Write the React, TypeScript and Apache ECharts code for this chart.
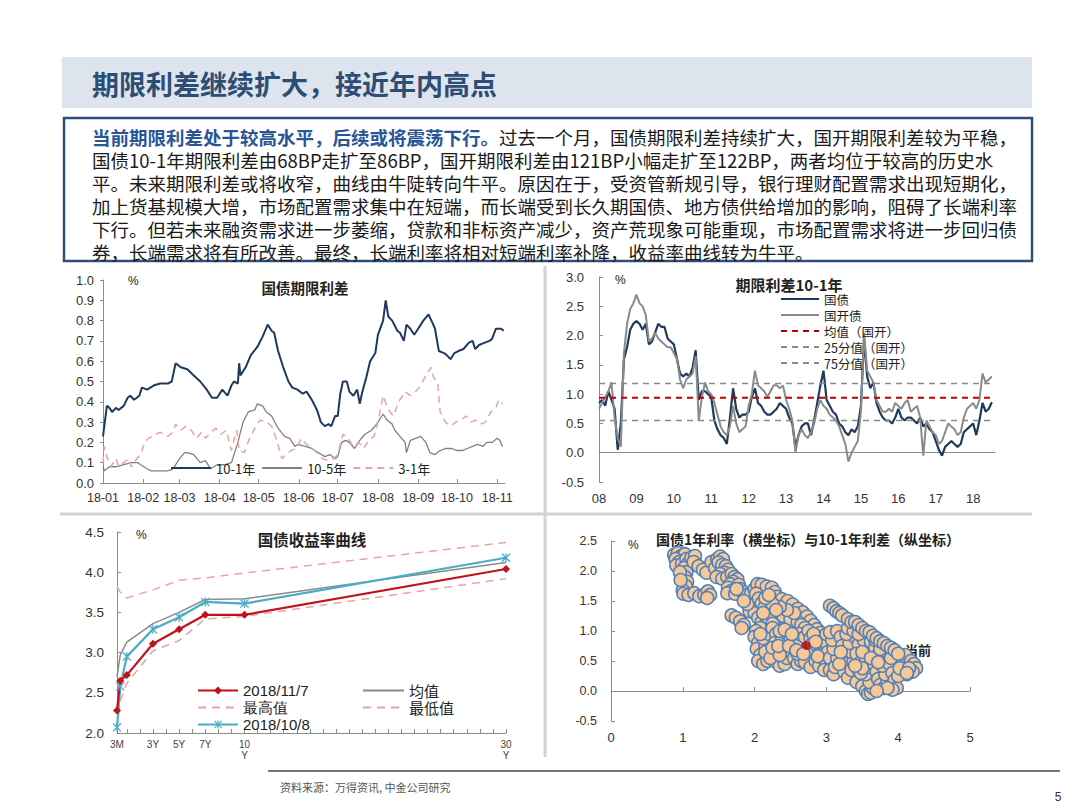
import React, { useEffect, useRef } from 'react';
import * as echarts from 'echarts';

// ---------- Chart 1: 国债期限利差 (x = days since 2018-01-01) ----------
const monthDays = [0, 31, 59, 90, 120, 151, 181, 212, 243, 273, 304];
const monthLabels = ['18-01', '18-02', '18-03', '18-04', '18-05', '18-06', '18-07', '18-08', '18-09', '18-10', '18-11'];

const spread101 = [
  [0, 0.23], [3, 0.38], [5, 0.37], [7, 0.35], [10, 0.37], [12, 0.36], [16, 0.38], [19, 0.42], [21, 0.43], [24, 0.41],
  [28, 0.43], [30, 0.47], [34, 0.46], [39, 0.48], [44, 0.49], [50, 0.49], [53, 0.5], [56, 0.59], [60, 0.57], [65, 0.56],
  [70, 0.53], [75, 0.5], [80, 0.46], [84, 0.42], [88, 0.42], [92, 0.46], [96, 0.43], [99, 0.48], [101, 0.5], [104, 0.49],
  [105, 0.59], [106, 0.53], [110, 0.57], [114, 0.63], [119, 0.67], [123, 0.72], [127, 0.78], [130, 0.75], [132, 0.74], [135, 0.65],
  [139, 0.57], [143, 0.5], [146, 0.47], [150, 0.46], [154, 0.44], [157, 0.45], [161, 0.41], [165, 0.36], [168, 0.3], [171, 0.28],
  [174, 0.29], [176, 0.28], [179, 0.33], [181, 0.33], [183, 0.44], [185, 0.5], [188, 0.5], [190, 0.45], [193, 0.43], [196, 0.46],
  [198, 0.39], [200, 0.45], [203, 0.52], [206, 0.6], [210, 0.64], [212, 0.73], [216, 0.8], [218, 0.9], [220, 0.82], [223, 0.8],
  [227, 0.75], [229, 0.74], [232, 0.7], [234, 0.78], [237, 0.76], [240, 0.73], [243, 0.76], [247, 0.8], [251, 0.83], [254, 0.79],
  [256, 0.76], [259, 0.65], [263, 0.64], [265, 0.63], [268, 0.61], [271, 0.64], [274, 0.65], [278, 0.66], [282, 0.69], [285, 0.7],
  [287, 0.66], [290, 0.68], [294, 0.69], [298, 0.7], [300, 0.71], [303, 0.76], [307, 0.76], [309, 0.75],
];
const spread105 = [
  [0, 0.08], [1, 0.06], [5, 0.08], [10, 0.08], [16, 0.09], [22, 0.1], [27, 0.1], [29, 0.09], [34, 0.07], [37, 0.06],
  [44, 0.06], [50, 0.06], [54, 0.07], [59, 0.12], [63, 0.15], [65, 0.15], [70, 0.14], [75, 0.1], [79, 0.11], [83, 0.07],
  [88, 0.09], [94, 0.09], [99, 0.1], [104, 0.2], [108, 0.3], [112, 0.35], [117, 0.36], [119, 0.39], [123, 0.38], [126, 0.35],
  [130, 0.33], [135, 0.27], [140, 0.23], [144, 0.22], [148, 0.18], [150, 0.19], [156, 0.18], [161, 0.17], [166, 0.15], [171, 0.13],
  [175, 0.14], [179, 0.12], [181, 0.13], [184, 0.2], [187, 0.21], [190, 0.2], [194, 0.17], [198, 0.21], [202, 0.24], [207, 0.26],
  [211, 0.29], [216, 0.34], [219, 0.31], [223, 0.29], [225, 0.26], [229, 0.23], [233, 0.2], [234, 0.15], [237, 0.21], [241, 0.22],
  [245, 0.23], [249, 0.2], [252, 0.15], [256, 0.14], [260, 0.16], [264, 0.17], [269, 0.17], [273, 0.16], [277, 0.16], [281, 0.17],
  [285, 0.18], [289, 0.19], [293, 0.18], [296, 0.2], [300, 0.2], [304, 0.22], [306, 0.21], [308, 0.18],
];
const spread31 = [
  [0, 0.1], [1, 0.18], [3, 0.13], [6, 0.08], [10, 0.12], [12, 0.08], [16, 0.1], [20, 0.12], [22, 0.08], [26, 0.12],
  [29, 0.14], [32, 0.2], [35, 0.22], [41, 0.24], [44, 0.25], [50, 0.23], [54, 0.25], [56, 0.29], [60, 0.26], [64, 0.28],
  [68, 0.26], [72, 0.22], [76, 0.25], [79, 0.22], [83, 0.25], [87, 0.27], [91, 0.24], [95, 0.26], [99, 0.16], [101, 0.21],
  [103, 0.26], [105, 0.16], [109, 0.15], [113, 0.22], [117, 0.27], [121, 0.31], [126, 0.3], [130, 0.28], [134, 0.21], [138, 0.12],
  [141, 0.14], [145, 0.16], [149, 0.17], [153, 0.22], [157, 0.19], [161, 0.17], [165, 0.15], [169, 0.12], [174, 0.11], [178, 0.12],
  [181, 0.14], [185, 0.24], [189, 0.22], [193, 0.18], [197, 0.2], [201, 0.17], [205, 0.21], [209, 0.23], [212, 0.3], [216, 0.43],
  [220, 0.36], [224, 0.33], [228, 0.4], [233, 0.45], [237, 0.43], [241, 0.45], [245, 0.48], [249, 0.53], [253, 0.57], [255, 0.52],
  [258, 0.5], [260, 0.35], [264, 0.3], [268, 0.28], [272, 0.3], [276, 0.31], [280, 0.33], [284, 0.3], [287, 0.31], [291, 0.29],
  [295, 0.3], [299, 0.35], [303, 0.37], [305, 0.41], [308, 0.39],
];

// ---------- Chart 2: 期限利差10-1年 (monthly, from 2008-01) ----------
const yearTickMonths = [0, 12, 24, 36, 48, 60, 72, 84, 96, 108, 120];
const govSpread = [
  0.85, 0.9, 0.8, 1.05, 0.9, 0.75, 0.05, 0.5, 1.6, 1.8,
  2.1, 2.2, 2.25, 2.2, 2.1, 2.2, 1.85, 1.9, 2.05, 2.2,
  2.15, 2.15, 1.95, 1.9, 1.85, 1.6, 1.35, 1.3, 1.35, 1.3,
  1.45, 1.75, 0.9, 1.05, 1.05, 1.0, 0.95, 0.55, 0.4, 0.3,
  0.25, 0.15, 0.6, 1.1, 0.75, 0.6, 0.65, 0.65, 0.7, 0.95,
  1.1, 0.85, 0.8, 0.7, 0.65, 0.65, 0.7, 0.75, 0.85, 0.8,
  0.75, 0.6, 0.5, 0.1, 0.3, 0.45, 0.5, 0.5, 0.3, 0.55,
  0.85, 1.15, 1.4, 0.9, 0.8, 0.7, 0.65, 0.5, 0.45, 0.35,
  0.3, 0.4, 0.35, 0.45, 0.8, 1.95, 1.3, 1.1, 1.2, 0.85,
  0.7, 0.6, 0.55, 0.55, 0.5, 0.6, 0.75, 0.6, 0.55, 0.6,
  0.6, 0.55, 0.5, 0.6, 0.45, 0.5, 0.4, 0.35, 0.2, 0.05,
  -0.05, 0.1, 0.15, 0.2, 0.15, 0.1, 0.15, 0.35, 0.4, 0.45,
  0.5, 0.3, 0.55, 0.85, 0.7, 0.75, 0.86,
];
const cdbSpread = [
  0.75, 0.85, 0.95, 1.05, 1.2, 0.6, 0.25, 0.1, 1.7, 2.2,
  2.45, 2.55, 2.7, 2.55, 2.5, 2.35, 1.9, 1.95, 2.05, 1.95,
  1.9, 1.85, 1.8, 1.8, 1.7, 1.6, 1.25, 1.1, 1.25, 1.3,
  1.35, 1.65, 0.55, 0.95, 1.2, 1.05, 1.0, 0.85, 0.65, 0.45,
  0.35, 0.3, 0.45, 0.8, 0.5, 0.35, 0.4, 0.45, 0.8, 1.0,
  1.4, 1.15, 1.1, 1.05, 0.95, 1.05, 1.15, 1.15, 1.1, 1.15,
  0.9, 0.75, 0.55, 0.0, 0.3, 0.4, 0.3, 0.25, 0.35, 0.5,
  0.75, 0.9, 0.8, 0.75, 0.65, 0.6, 0.55, 0.45, 0.3, 0.15,
  -0.15, 0.0, 0.1, 0.2, 0.7, 2.05, 1.4, 1.3, 1.2, 0.9,
  0.8, 0.7, 0.7, 0.75, 0.7, 0.85, 0.8, 0.75, 0.85, 0.9,
  0.7, 0.75, 0.8, 0.6, -0.05, 0.55, 0.45, 0.35, 0.3, 0.15,
  0.2, 0.35, 0.5, 0.45, 0.4, 0.3, 0.35, 0.6, 0.75, 0.8,
  0.85, 0.75, 0.9, 1.35, 1.2, 1.25, 1.3,
];
const cdbMean = 0.94;
const cdbP25 = 0.55;
const cdbP75 = 1.18;

// ---------- Chart 3: 国债收益率曲线 ----------
const tenors = [0.25, 0.5, 1, 3, 5, 7, 10, 30];
const tenorLabelValues = [0.25, 3, 5, 7, 10, 30];
const tenorLabels = ['3M', '3Y', '5Y', '7Y', '10\nY', '30\nY'];
const tenorTickValues = [0.25, 1, 2, 3, 4, 5, 6, 7, 8, 9, 10, 11, 12, 13, 14, 15, 16, 17, 18, 19, 20, 21, 22, 23, 24, 25, 26, 27, 28, 29, 30];
const curveNov7 = [2.28, 2.65, 2.72, 3.11, 3.29, 3.47, 3.47, 4.04];
const curveMean = [2.7, 2.97, 3.13, 3.36, 3.5, 3.66, 3.67, 4.12];
const curveMax = [3.82, 3.75, 3.68, 3.78, 3.9, 3.93, 3.99, 4.37];
const curveMin = [2.05, 2.4, 2.62, 3.02, 3.15, 3.42, 3.45, 3.92];
const curveOct8 = [2.07, 2.58, 2.95, 3.29, 3.44, 3.63, 3.61, 4.18];

// ---------- Chart 4: 国债1年利率 vs 10-1年利差 ----------
const scatterPts = [
  [3.95, 0.62], [4.05, 0.56], [4.1, 0.6], [4.18, 0.5], [4.22, 0.45], [4.25, 0.38], [4.2, 0.32], [4.12, 0.28], [4.05, 0.35], [4.0, 0.45], [3.95, 0.52], [3.9, 0.4],
  [0.88, 2.27], [0.93, 2.3], [0.98, 2.25], [1.03, 2.28], [0.9, 2.2], [0.95, 2.15], [0.91, 2.09], [0.99, 2.12], [1.05, 2.2], [1.08, 2.13],
  [1.02, 2.05], [1.05, 1.98], [1.03, 1.9], [1.06, 1.82], [1.04, 1.75], [1.0, 1.68], [1.01, 1.62], [1.08, 1.6], [1.16, 1.63], [1.23, 1.58],
  [1.3, 1.6], [1.35, 1.66], [1.38, 1.6], [1.34, 1.55], [1.12, 2.22], [1.17, 2.25], [1.15, 2.15], [1.22, 2.08], [1.28, 2.02], [1.33, 1.97],
  [0.96, 1.98], [0.97, 1.85], [1.4, 2.15], [1.45, 2.05],
  [1.48, 2.2], [1.52, 2.24], [1.56, 2.2], [1.5, 2.14], [1.55, 2.1], [1.6, 2.08], [1.63, 2.02], [1.58, 1.97], [1.52, 1.95], [1.47, 1.9],
  [1.55, 1.87], [1.62, 1.9], [1.68, 1.95], [1.72, 1.9], [1.76, 1.86], [1.7, 1.82], [1.66, 1.78], [1.63, 1.72], [1.68, 1.67], [1.62, 1.63],
  [1.73, 1.62], [1.78, 1.77], [1.8, 1.7], [1.84, 1.65], [1.88, 1.6], [1.92, 1.54], [1.95, 1.47], [1.98, 1.4], [1.93, 1.33], [2.0, 1.3],
  [1.75, 1.7], [1.95, 1.62], [2.0, 1.7], [1.9, 1.45], [1.85, 1.5],
  [1.68, 1.26], [1.74, 1.22], [1.8, 1.16], [1.85, 1.1], [1.82, 1.05],
  [2.04, 1.78], [2.1, 1.77], [2.17, 1.74], [2.24, 1.72], [2.28, 1.65], [2.31, 1.57], [2.38, 1.53], [2.46, 1.5], [2.53, 1.44], [2.6, 1.37],
  [2.67, 1.31], [2.73, 1.24], [2.78, 1.17], [2.83, 1.1], [2.87, 1.03], [2.92, 0.97],
  [2.02, 1.62], [2.06, 1.54], [2.1, 1.46], [2.14, 1.39], [2.19, 1.31], [2.25, 1.26], [2.31, 1.2], [2.38, 1.15], [2.45, 1.1], [2.5, 1.05],
  [2.56, 1.0], [2.05, 1.22], [2.1, 1.15], [2.15, 1.1], [2.2, 1.2], [2.12, 1.3], [2.25, 1.12], [2.08, 1.05],
  [2.4, 1.25], [2.5, 1.2], [2.6, 1.15], [2.65, 1.1], [2.7, 1.05], [2.55, 1.3], [2.45, 1.35], [2.35, 1.4], [2.25, 1.45], [2.15, 1.55],
  [2.2, 1.6], [2.3, 1.35],
  [2.02, 1.0], [2.0, 0.9], [2.05, 0.8], [2.03, 0.7], [2.08, 0.6], [2.05, 0.5], [2.12, 0.45], [2.18, 0.5], [2.2, 0.62], [2.15, 0.75],
  [2.12, 0.88], [2.2, 0.95], [2.25, 1.05], [2.3, 0.95], [2.28, 0.8], [2.3, 0.65], [2.28, 0.5], [2.35, 0.42], [2.42, 0.45], [2.45, 0.55],
  [2.4, 0.7], [2.38, 0.85], [2.45, 0.95], [2.5, 0.88], [2.55, 0.78], [2.5, 0.65], [2.55, 0.55], [2.6, 0.45], [2.65, 0.5], [2.6, 0.62],
  [2.65, 0.72], [2.6, 0.85], [2.62, 0.95], [2.7, 0.9], [2.75, 1.0], [2.78, 0.88], [2.8, 0.78], [2.85, 0.65], [2.75, 0.6], [2.7, 0.48],
  [2.78, 0.4], [2.85, 0.5], [2.9, 0.42], [2.95, 0.55], [2.92, 0.7], [2.9, 0.82], [2.95, 0.9], [3.0, 0.8], [3.02, 0.65], [3.0, 0.45],
  [2.08, 0.95], [2.15, 0.65], [2.22, 0.55], [2.25, 0.72], [2.35, 0.6], [2.33, 0.75], [2.35, 1.0], [2.42, 1.02], [2.48, 0.75], [2.52, 0.95],
  [2.58, 0.68], [2.68, 0.62], [2.82, 0.95], [2.85, 0.82], [2.88, 0.58], [2.97, 0.35], [3.0, 0.95], [3.05, 0.55],
  [3.05, 0.35], [3.1, 0.28], [3.12, 0.4], [3.15, 0.55], [3.1, 0.7], [3.08, 0.85], [3.05, 0.98], [3.15, 1.0], [3.2, 0.9], [3.22, 0.75],
  [3.25, 0.6], [3.28, 0.45], [3.25, 0.32], [3.3, 0.22], [3.35, 0.35], [3.38, 0.5], [3.35, 0.65], [3.32, 0.8], [3.4, 0.9], [3.45, 0.78],
  [3.42, 0.62], [3.48, 0.48], [3.45, 0.35], [3.5, 0.22], [3.42, 0.15], [3.5, 0.08], [3.55, 0.0], [3.58, -0.05], [3.62, -0.03], [3.65, 0.05],
  [3.6, 0.15], [3.55, 0.28], [3.58, 0.4], [3.55, 0.55], [3.6, 0.68], [3.52, 0.85], [3.62, 0.82], [3.68, 0.72], [3.7, 0.58], [3.65, 0.45],
  [3.7, 0.32], [3.72, 0.2], [3.75, 0.1], [3.8, 0.05], [3.85, 0.15], [3.82, 0.28], [3.78, 0.42], [3.8, 0.55], [3.85, 0.65], [3.88, 0.45],
  [3.92, 0.3], [3.95, 0.18], [3.98, 0.05], [3.92, 0.02], [4.0, 0.25], [4.02, 0.38], [4.15, 0.38], [4.12, 0.3],
  [3.18, 0.45], [3.2, 0.65], [3.28, 0.95], [3.3, 1.05], [3.38, 1.0], [3.45, 0.95], [3.5, 0.65], [3.48, 0.3], [3.62, 0.55], [3.68, 0.85],
  [3.75, 0.7], [3.72, 0.48], [3.9, 0.55], [3.85, 0.05], [3.7, 0.0], [3.5, 0.38], [3.4, 0.42],
  [3.05, 1.42], [3.1, 1.38], [3.14, 1.33], [3.18, 1.3], [3.22, 1.26], [3.3, 1.2], [3.35, 1.15], [3.4, 1.15], [3.45, 1.1], [3.5, 1.05],
  [3.55, 1.0], [3.6, 0.98], [3.65, 0.92], [3.7, 0.88], [3.75, 0.83], [3.8, 0.8], [3.85, 0.75], [3.9, 0.72], [3.95, 0.68], [4.0, 0.62],
];
const currentPt = [[2.72, 0.76]];

// ---------- Text ----------
const pageTitle = '期限利差继续扩大，接近年内高点';
const introBold = '当前期限利差处于较高水平，后续或将震荡下行。';
const introLines = [
  '过去一个月，国债期限利差持续扩大，国开期限利差较为平稳，',
  '国债10-1年期限利差由68BP走扩至86BP，国开期限利差由121BP小幅走扩至122BP，两者均位于较高的历史水',
  '平。未来期限利差或将收窄，曲线由牛陡转向牛平。原因在于，受资管新规引导，银行理财配置需求出现短期化，',
  '加上货基规模大增，市场配置需求集中在短端，而长端受到长久期国债、地方债供给增加的影响，阻碍了长端利率',
  '下行。但若未来融资需求进一步萎缩，贷款和非标资产减少，资产荒现象可能重现，市场配置需求将进一步回归债',
  '券，长端需求将有所改善。最终，长端利率将相对短端利率补降，收益率曲线转为牛平。',
];
const sourceText = '资料来源：万得资讯, 中金公司研究';

const CJK = '"Noto Sans CJK SC", "Noto Sans", sans-serif';
const LAT = '"Liberation Sans", Arial, sans-serif';
const NAVY = '#1f3a5c';
const GRAY = '#8a8a8a';
const PINK = '#e9a4a4';
const RED = '#c0121b';
const TEAL = '#4bacc6';
const AXIS = '#8c8c8c';
const LABEL = '#333333';

const asterisk = 'path://M4.3,0L5.7,0L5.7,10L4.3,10Z M0,1L1,0L10,9L9,10Z M9,0L10,1L1,10L0,9Z';

function text(x: number, y: number, t: string, size: number, opts: any = {}) {
  return {
    type: 'text', x, y, silent: true,
    style: {
      text: t, fontSize: size, fontFamily: opts.family || CJK, fontWeight: opts.weight || 'normal',
      fill: opts.fill || '#222', align: opts.align || 'left', verticalAlign: 'middle',
    },
  };
}

const hiddenSymbol = { opacity: 0 };

function buildOption(): any {
  const graphics: any[] = [
    { type: 'rect', shape: { x: 62, y: 57, width: 970, height: 51 }, style: { fill: '#dde4ed' }, silent: true },
    text(92, 83, pageTitle, 27, { weight: 'bold', fill: '#2d4d74' }),
    { type: 'rect', shape: { x: 64, y: 118, width: 968, height: 143 }, style: { fill: '#ffffff', stroke: '#2f4f7b', lineWidth: 2.5 }, silent: true },
    {
      type: 'text', x: 92, y: 137, silent: true,
      style: {
        text: '{b|' + introBold + '}{n|' + introLines[0] + '}',
        verticalAlign: 'middle',
        rich: {
          b: { fontSize: 18.5, fontFamily: CJK, fontWeight: 'bold', fill: '#2a5596' },
          n: { fontSize: 18.5, fontFamily: CJK, fill: '#1a1a1a' },
        },
      },
    },
    ...introLines.slice(1).map((l, i) => text(92, 160 + i * 23, l, 18.5, { fill: '#1a1a1a' })),
    { type: 'line', shape: { x1: 60, y1: 514, x2: 1032, y2: 514 }, style: { stroke: '#d2d2d2', lineWidth: 3 }, silent: true },
    { type: 'line', shape: { x1: 545, y1: 266, x2: 545, y2: 757 }, style: { stroke: '#d2d2d2', lineWidth: 3 }, silent: true },
    { type: 'line', shape: { x1: 268, y1: 771, x2: 1060, y2: 771 }, style: { stroke: '#444', lineWidth: 1.5 }, silent: true },
    text(280, 787, sourceText, 11, { fill: '#555' }),
    text(1058, 797, '5', 12, { family: LAT, fill: '#333', align: 'center' }),
    // chart titles & units
    text(305, 287, '国债期限利差', 14.5, { weight: 'bold', align: 'center' }),
    text(128, 281, '%', 12, { family: LAT }),
    text(789, 284, '期限利差10-1年', 15, { weight: 'bold', align: 'center' }),
    text(615, 280, '%', 12, { family: LAT }),
    text(312, 539, '国债收益率曲线', 15.5, { weight: 'bold', align: 'center' }),
    text(136, 535, '%', 12, { family: LAT }),
    text(808, 539, '国债1年利率（横坐标）与10-1年利差（纵坐标）', 14, { weight: 'bold', align: 'center' }),
    text(628, 545, '%', 12, { family: LAT }),
    text(905, 649, '当前', 13, { weight: 'bold' }),
  ];

  const yLabel = (margin: number, size = 13) => ({
    fontSize: size, fontFamily: LAT, color: LABEL, margin, formatter: (v: number) => v.toFixed(1),
  });
  const axisLine = { show: true, lineStyle: { color: AXIS, width: 1 } };

  return {
    animation: false,
    backgroundColor: '#ffffff',
    graphic: { elements: graphics },
    grid: [
      { left: 103, top: 280, width: 402, height: 203, containLabel: false, outerBoundsMode: 'none' },
      { left: 599, top: 277, width: 396, height: 205, containLabel: false, outerBoundsMode: 'none' },
      { left: 117, top: 532, width: 389, height: 201, containLabel: false, outerBoundsMode: 'none' },
      { left: 611, top: 541, width: 359, height: 180, containLabel: false, outerBoundsMode: 'none' },
    ],
    xAxis: [
      {
        gridIndex: 0, type: 'value', min: 0, max: 310, position: 'bottom',
        axisLine: { ...axisLine, onZero: false },
        axisTick: { show: true, inside: true, length: 4, customValues: monthDays, lineStyle: { color: AXIS } },
        axisLabel: {
          fontSize: 12.5, fontFamily: LAT, color: LABEL, margin: 8, customValues: monthDays,
          formatter: (v: number) => monthLabels[monthDays.indexOf(Math.round(v))] || '',
        },
        splitLine: { show: false },
      },
      {
        gridIndex: 1, type: 'value', min: 0, max: 127, position: 'bottom',
        axisLine: { show: false, onZero: false }, axisTick: { show: false },
        axisLabel: {
          fontSize: 13, fontFamily: LAT, color: LABEL, margin: 10, customValues: yearTickMonths,
          formatter: (v: number) => String(8 + Math.round(v / 12)).padStart(2, '0'),
        },
        splitLine: { show: false },
      },
      {
        gridIndex: 1, type: 'value', min: 0, max: 127, position: 'bottom',
        axisLine: { show: true, onZero: true, lineStyle: { color: AXIS } },
        axisTick: { show: false }, axisLabel: { show: false }, splitLine: { show: false },
      },
      {
        gridIndex: 2, type: 'value', min: 0.25, max: 30, position: 'bottom',
        axisLine: { ...axisLine, onZero: false },
        axisTick: { show: true, inside: true, length: 4, customValues: tenorTickValues, lineStyle: { color: AXIS } },
        axisLabel: {
          fontSize: 10, fontFamily: LAT, color: '#444', margin: 6, lineHeight: 11, customValues: tenorLabelValues,
          formatter: (v: number) => tenorLabels[tenorLabelValues.indexOf(v)] || '',
        },
        splitLine: { show: false },
      },
      {
        gridIndex: 3, type: 'value', min: 0, max: 5, interval: 1, position: 'bottom',
        axisLine: { show: false, onZero: false }, axisTick: { show: false },
        axisLabel: { fontSize: 13, fontFamily: LAT, color: LABEL, margin: 10 },
        splitLine: { show: false },
      },
      {
        gridIndex: 3, type: 'value', min: 0, max: 5, interval: 1, position: 'bottom',
        axisLine: { show: true, onZero: true, lineStyle: { color: AXIS } },
        axisTick: { show: true, inside: true, length: 4, lineStyle: { color: AXIS } },
        axisLabel: { show: false }, splitLine: { show: false },
      },
    ],
    yAxis: [
      {
        gridIndex: 0, type: 'value', min: 0, max: 1, interval: 0.1,
        axisLine: axisLine, axisTick: { show: true, length: 3, lineStyle: { color: AXIS } },
        axisLabel: yLabel(9), splitLine: { show: false },
      },
      {
        gridIndex: 1, type: 'value', min: -0.5, max: 3, interval: 0.5,
        axisLine: axisLine, axisTick: { show: true, inside: true, length: 4, lineStyle: { color: AXIS } },
        axisLabel: yLabel(15), splitLine: { show: false },
      },
      {
        gridIndex: 2, type: 'value', min: 2, max: 4.5, interval: 0.5,
        axisLine: axisLine, axisTick: { show: true, inside: true, length: 4, lineStyle: { color: AXIS } },
        axisLabel: yLabel(13, 13.5), splitLine: { show: false },
      },
      {
        gridIndex: 3, type: 'value', min: -0.5, max: 2.5, interval: 0.5,
        axisLine: axisLine, axisTick: { show: true, inside: true, length: 4, lineStyle: { color: AXIS } },
        axisLabel: yLabel(14, 12.5), splitLine: { show: false },
      },
    ],
    legend: [
      {
        data: ['10-1年', '10-5年', '3-1年'], left: 170, top: 461, padding: 0, itemWidth: 40, itemHeight: 14, itemGap: 6,
        selectedMode: false, itemStyle: hiddenSymbol, textStyle: { fontSize: 13, fontFamily: CJK, color: '#222', lineHeight: 14 },
      },
      {
        data: ['国债', '国开债', '均值（国开）', '25分值（国开）', '75分值（国开）'], orient: 'vertical', left: 780, top: 292,
        padding: 0, itemWidth: 38, itemHeight: 14, itemGap: 2, selectedMode: false, itemStyle: hiddenSymbol,
        textStyle: { fontSize: 12.5, fontFamily: CJK, color: '#222', lineHeight: 14 },
      },
      {
        data: ['2018/11/7', { name: '最高值', itemStyle: hiddenSymbol }, '2018/10/8'], orient: 'vertical', left: 197, top: 683, padding: 0,
        itemWidth: 40, itemHeight: 10, itemGap: 2, selectedMode: false,
        textStyle: { fontSize: 15, fontFamily: LAT, color: '#222', lineHeight: 15 },
      },
      {
        data: ['均值', '最低值'], orient: 'vertical', left: 362, top: 683, padding: 0,
        itemWidth: 41, itemHeight: 10, itemGap: 2, selectedMode: false, itemStyle: hiddenSymbol,
        textStyle: { fontSize: 15, fontFamily: CJK, color: '#222', lineHeight: 15 },
      },
    ],
    series: [
      // chart 1
      { name: '10-5年', type: 'line', xAxisIndex: 0, yAxisIndex: 0, data: spread105, symbol: 'none', lineStyle: { color: '#808080', width: 1.3 }, itemStyle: { color: '#808080' } },
      { name: '3-1年', type: 'line', xAxisIndex: 0, yAxisIndex: 0, data: spread31, symbol: 'none', lineStyle: { color: PINK, width: 1.5, type: [7, 5] }, itemStyle: { color: PINK } },
      { name: '10-1年', type: 'line', xAxisIndex: 0, yAxisIndex: 0, data: spread101, symbol: 'none', lineStyle: { color: NAVY, width: 2 }, itemStyle: { color: NAVY } },
      // chart 2
      { name: '国债', type: 'line', xAxisIndex: 1, yAxisIndex: 1, data: govSpread.map((v, i) => [i, v]), symbol: 'none', lineStyle: { color: NAVY, width: 2.2 }, itemStyle: { color: NAVY } },
      { name: '国开债', type: 'line', xAxisIndex: 1, yAxisIndex: 1, data: cdbSpread.map((v, i) => [i, v]), symbol: 'none', lineStyle: { color: GRAY, width: 2 }, itemStyle: { color: GRAY } },
      { name: '均值（国开）', type: 'line', xAxisIndex: 1, yAxisIndex: 1, data: [[0, cdbMean], [127, cdbMean]], symbol: 'none', lineStyle: { color: '#c00000', width: 2, type: [6, 5] }, itemStyle: { color: '#c00000' } },
      { name: '25分值（国开）', type: 'line', xAxisIndex: 1, yAxisIndex: 1, data: [[0, cdbP25], [127, cdbP25]], symbol: 'none', lineStyle: { color: GRAY, width: 1.5, type: [6, 5] }, itemStyle: { color: GRAY } },
      { name: '75分值（国开）', type: 'line', xAxisIndex: 1, yAxisIndex: 1, data: [[0, cdbP75], [127, cdbP75]], symbol: 'none', lineStyle: { color: GRAY, width: 1.5, type: [6, 5] }, itemStyle: { color: GRAY } },
      // chart 3
      { name: '最高值', type: 'line', xAxisIndex: 3, yAxisIndex: 2, data: tenors.map((t, i) => [t, curveMax[i]]), symbol: 'none', lineStyle: { color: PINK, width: 1.5, type: [8, 6] }, itemStyle: { color: PINK } },
      { name: '最低值', type: 'line', xAxisIndex: 3, yAxisIndex: 2, data: tenors.map((t, i) => [t, curveMin[i]]), symbol: 'none', lineStyle: { color: PINK, width: 1.5, type: [8, 6] }, itemStyle: { color: PINK } },
      { name: '均值', type: 'line', xAxisIndex: 3, yAxisIndex: 2, data: tenors.map((t, i) => [t, curveMean[i]]), symbol: 'none', lineStyle: { color: GRAY, width: 1.5 }, itemStyle: { color: GRAY } },
      { name: '2018/10/8', type: 'line', xAxisIndex: 3, yAxisIndex: 2, data: tenors.map((t, i) => [t, curveOct8[i]]), symbol: asterisk, symbolSize: 9, lineStyle: { color: TEAL, width: 2.2 }, itemStyle: { color: TEAL, borderWidth: 0 } },
      { name: '2018/11/7', type: 'line', xAxisIndex: 3, yAxisIndex: 2, data: tenors.map((t, i) => [t, curveNov7[i]]), symbol: 'diamond', symbolSize: 8, lineStyle: { color: RED, width: 2.2 }, itemStyle: { color: RED, borderWidth: 0 } },
      // chart 4
      { name: 'scatter', type: 'scatter', xAxisIndex: 4, yAxisIndex: 3, data: scatterPts, symbol: 'circle', symbolSize: 13, itemStyle: { color: '#f8c796', borderColor: '#4f81bd', borderWidth: 1.5, opacity: 1 } },
      { name: 'current', type: 'scatter', xAxisIndex: 4, yAxisIndex: 3, data: currentPt, symbol: 'circle', symbolSize: 9, itemStyle: { color: '#c00000' }, z: 5 },
    ],
  };
}

export default function App() {
  const ref = useRef<HTMLDivElement>(null);
  useEffect(() => {
    if (!ref.current) return;
    const chart = echarts.init(ref.current, null, { renderer: 'svg', width: 1080, height: 810 });
    chart.setOption(buildOption());
    return () => chart.dispose();
  }, []);
  return <div ref={ref} style={{ position: 'fixed', left: 0, top: 0, width: 1080, height: 810, background: '#fff' }} />;
}
